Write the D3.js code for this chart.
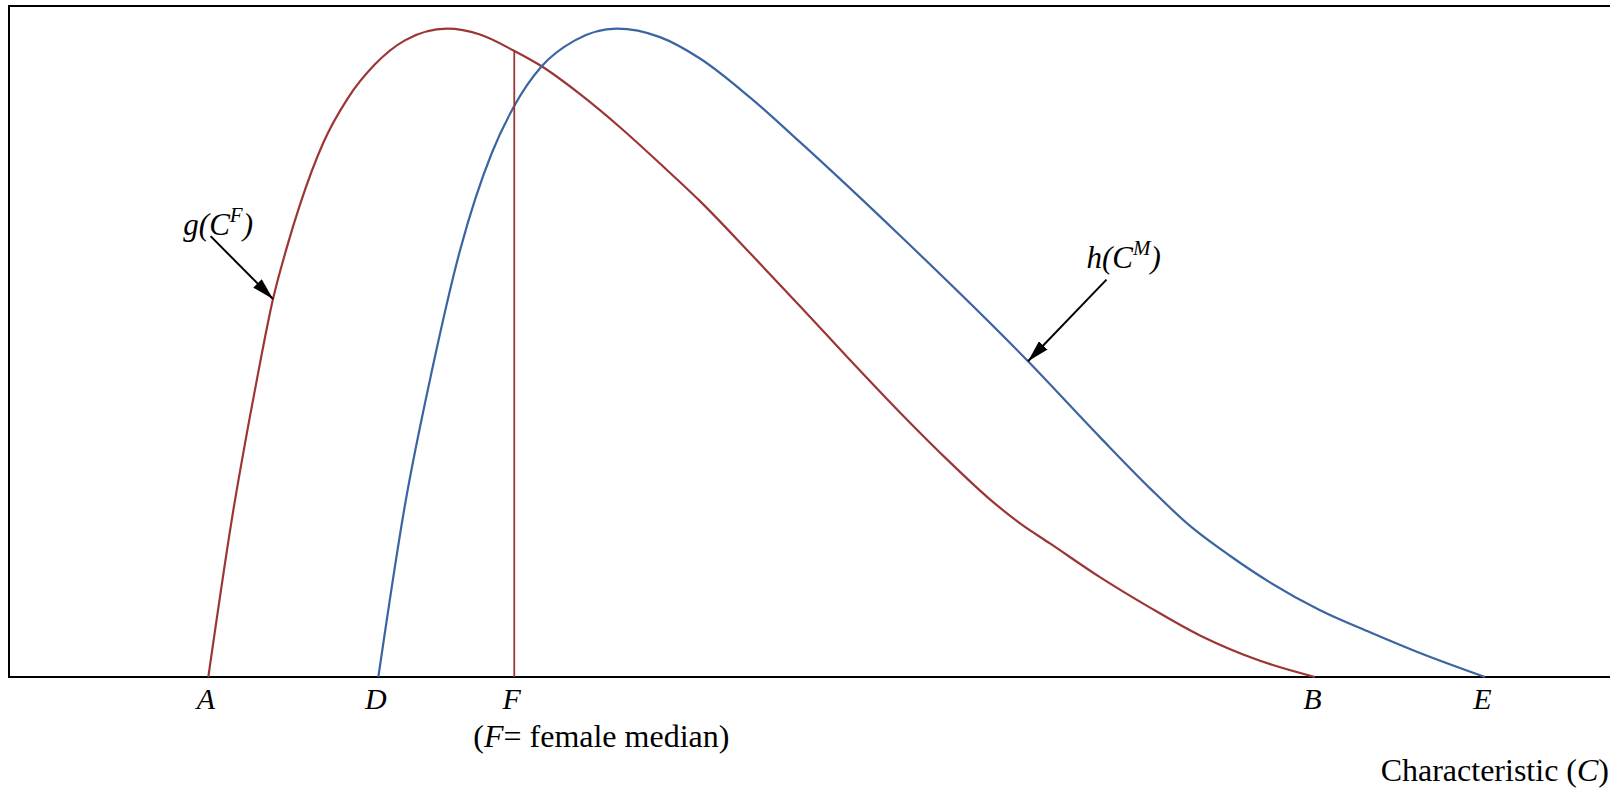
<!DOCTYPE html>
<html>
<head>
<meta charset="utf-8">
<script src="https://cdn.jsdelivr.net/npm/d3@7"></script>
<style>
  body { margin: 0; background: #fff; overflow: hidden; }
  text { font-family: "Liberation Serif", "Times New Roman", serif; fill: #000; }
</style>
</head>
<body>
<script>
var width = 1610,
    height = 792;

// female distribution g(C^F) : characteristic value / density
var femaleX = [12.45, 13.99, 15.05, 15.80, 16.49, 17.30, 18.18, 19.61, 21.17, 22.86, 24.73, 27.36, 29.42, 31.54, 33.27, 35.67, 38.16, 40.66, 43.16, 46.28, 49.41, 52.53, 55.65, 58.78, 61.27, 63.15, 65.02, 68.14, 71.27, 74.39, 78.14, 81.57];
var femaleY = [0, 0.254, 0.402, 0.500, 0.583, 0.658, 0.729, 0.823, 0.893, 0.945, 0.982, 1.0, 0.991, 0.966, 0.942, 0.899, 0.848, 0.792, 0.734, 0.654, 0.572, 0.489, 0.408, 0.331, 0.274, 0.237, 0.206, 0.154, 0.107, 0.064, 0.025, 0];

// male distribution h(C^M)
var maleX = [23.07, 24.73, 26.42, 28.17, 30.17, 31.54, 33.27, 35.35, 37.96, 40.66, 43.16, 46.28, 49.41, 55.65, 63.65, 68.14, 71.27, 73.77, 76.26, 78.76, 81.89, 85.01, 88.13, 92.19];
var maleY = [0, 0.265, 0.473, 0.658, 0.809, 0.880, 0.942, 0.982, 1.0, 0.987, 0.954, 0.894, 0.825, 0.681, 0.487, 0.370, 0.291, 0.233, 0.187, 0.146, 0.103, 0.069, 0.037, 0];

// points marked on the axis
var tickNames = ["A", "D", "F", "B", "E"];
var tickValues = [12.45, 23.07, 31.56, 81.57, 92.19];

// female median
var fMedian = 31.56,
    fMedianDensity = 0.966;

// curve labels with arrows
var annoName = ["g", "h"],
    annoSup = ["F", "M"],
    annoTextX = [10.89, 67.30],
    annoTextY = [0.6815, 0.6306],
    arrowFromX = [12.59, 68.55],
    arrowFromY = [0.680, 0.613],
    arrowToX = [16.49, 63.65],
    arrowToY = [0.583, 0.487];

var red = "#9c3634",
    blue = "#3b65a1";

var svg = d3.select("body")
    .append("svg")
    .attr("width", width)
    .attr("height", height);

var x = d3.scaleLinear().domain([0, 100]).range([9, 1610]);
var y = d3.scaleLinear().domain([0, 1.035]).range([677, 6]);

// arrow head
svg.append("defs").append("marker")
    .attr("id", "head")
    .attr("viewBox", "0 0 22 12")
    .attr("refX", 22)
    .attr("refY", 6)
    .attr("markerWidth", 22)
    .attr("markerHeight", 12)
    .attr("markerUnits", "userSpaceOnUse")
    .attr("orient", "auto")
    .append("path")
    .attr("d", "M0,0 L22,6 L0,12 Z")
    .attr("fill", "#000");

// frame (right side runs off the page)
svg.append("rect")
    .attr("x", x(0))
    .attr("y", y(1.035))
    .attr("width", x(100) - x(0) + 20)
    .attr("height", y(0) - y(1.035))
    .attr("fill", "none")
    .attr("stroke", "#000")
    .attr("stroke-width", 2);

var line = d3.line()
    .x(function(d) { return x(d[0]); })
    .y(function(d) { return y(d[1]); })
    .curve(d3.curveMonotoneX);

var female = d3.zip(femaleX, femaleY),
    male = d3.zip(maleX, maleY);

svg.append("path")
    .attr("d", line(female))
    .attr("fill", "none")
    .attr("stroke", red)
    .attr("stroke-width", 2.2);

svg.append("path")
    .attr("d", line(male))
    .attr("fill", "none")
    .attr("stroke", blue)
    .attr("stroke-width", 2.2);

// median line
svg.append("line")
    .attr("x1", x(fMedian))
    .attr("x2", x(fMedian))
    .attr("y1", y(0))
    .attr("y2", y(fMedianDensity))
    .attr("stroke", red)
    .attr("stroke-width", 1.8);

// axis letters
var axis = d3.axisBottom(x)
    .tickValues(tickValues)
    .tickFormat(function(d, i) { return tickNames[i]; })
    .tickSize(0)
    .tickPadding(11);

var gAxis = svg.append("g")
    .attr("transform", "translate(0," + y(0) + ")")
    .call(axis);
gAxis.select(".domain").remove();
gAxis.selectAll("text")
    .attr("font-size", "30px")
    .attr("font-style", "italic")
    .attr("font-family", "Liberation Serif, Times New Roman, serif")
    .attr("fill", "#000")
    .attr("dx", -3);

// (F= female median)
var med = svg.append("text")
    .attr("x", x(fMedian) - 41)
    .attr("y", 747)
    .attr("font-size", "32px");
med.append("tspan").text("(");
med.append("tspan").attr("font-style", "italic").text("F");
med.append("tspan").text("= female median)");

// x title
var title = svg.append("text")
    .attr("x", width - 1)
    .attr("y", 781)
    .attr("text-anchor", "end")
    .attr("font-size", "32px");
title.append("tspan").text("Characteristic (");
title.append("tspan").attr("font-style", "italic").text("C");
title.append("tspan").text(")");

// curve labels
for (var i = 0; i < annoName.length; i++) {
    var t = svg.append("text")
        .attr("x", x(annoTextX[i]))
        .attr("y", y(annoTextY[i]))
        .attr("font-size", "31px")
        .attr("font-style", "italic");
    t.append("tspan").text(annoName[i] + "(C");
    t.append("tspan").attr("font-size", "21px").attr("dy", -13).text(annoSup[i]);
    t.append("tspan").attr("dy", 13).text(")");

    svg.append("line")
        .attr("x1", x(arrowFromX[i]))
        .attr("y1", y(arrowFromY[i]))
        .attr("x2", x(arrowToX[i]))
        .attr("y2", y(arrowToY[i]))
        .attr("stroke", "#000")
        .attr("stroke-width", 2)
        .attr("marker-end", "url(#head)");
}
</script>
</body>
</html>
